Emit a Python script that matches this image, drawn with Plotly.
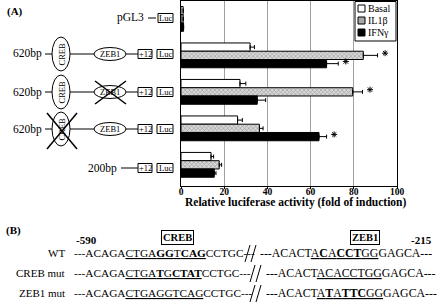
import plotly.graph_objects as go

# ---------------- data ----------------
constructs = ["pGL3", "620bp WT", "620bp ZEB1 mut", "620bp CREB mut", "200bp"]
series_names = ["Basal", "IL1β", "IFNγ"]
basal = [1.0, 32.0, 27.3, 26.2, 13.9]
basal_err = [0.0, 2.0, 2.7, 2.2, 1.2]
il1b = [1.0, 84.4, 79.5, 36.3, 17.7]
il1b_err = [0.0, 6.6, 4.5, 1.7, 1.1]
ifng = [1.2, 67.4, 35.3, 63.9, 15.4]
ifng_err = [0.0, 5.4, 3.9, 3.5, 0.8]
signif_basal = [False, False, False, False, False]
signif_il1b = [False, True, True, False, False]
signif_ifng = [False, True, False, True, False]
x_ticks = [0, 20, 40, 60, 80, 100]
x_title = "Relative luciferase activity (fold of induction)"

# ---------------- geometry helpers (pixel -> paper) ----------------
W, H = 440, 305
L, R, T, B = 181, 397, 1, 186


def px(x):
    return (x - L) / (R - L)


def py(y):
    return (B - y) / (B - T)


SERIF = "Liberation Serif"
fig = go.Figure()

positions = list(range(len(constructs)))
styles = [
    dict(color="white"),
    dict(color="#c8c8c8", pattern=dict(shape="x", size=3, solidity=0.35,
                                        fgcolor="#555555", bgcolor="#d8d8d8")),
    dict(color="black"),
]
vals = [basal, il1b, ifng]
errs = [basal_err, il1b_err, ifng_err]
for name, v, e, st in zip(series_names, vals, errs, styles):
    fig.add_trace(go.Bar(
        name=name, y=positions, x=v, orientation="h",
        marker=dict(line=dict(color="black", width=1), **st),
        error_x=dict(type="data", array=e, arrayminus=[0] * len(e), symmetric=False,
                     color="black", thickness=1, width=2),
        showlegend=False, hoverinfo="skip",
    ))

# asterisks (significance markers placed just past each error bar)
group_w = 1 - 0.32
offsets = [-group_w / 3, 0, group_w / 3]
sx, sy = [], []
for sig, v, e, off in zip([signif_basal, signif_il1b, signif_ifng], vals, errs, offsets):
    for i, s in enumerate(sig):
        if s:
            sx.append(v[i] + e[i] + 3.5)
            sy.append(i + off - 0.06)
fig.add_trace(go.Scatter(x=sx, y=sy, mode="markers", showlegend=False, hoverinfo="skip",
                         marker=dict(symbol="asterisk-open", size=5, color="black",
                                     line=dict(color="black", width=1))))

fig.update_layout(
    width=W, height=H,
    margin=dict(l=L, r=W - R, t=T, b=H - B),
    plot_bgcolor="white", paper_bgcolor="white",
    barmode="group", bargap=0.32, bargroupgap=0,
    showlegend=False,
    font=dict(family=SERIF, color="black"),
    xaxis=dict(range=[0, 100], tickvals=x_ticks,
               ticktext=["<b>%d</b>" % t for t in x_ticks],
               tickfont=dict(family=SERIF, size=9.5, color="black"),
               showgrid=True, gridcolor="#a0a0a0", gridwidth=1,
               showline=True, linecolor="black", linewidth=1, mirror=True,
               ticks="outside", ticklen=2, tickcolor="black", zeroline=False,
               ticklabelstandoff=-5),
    yaxis=dict(range=[4.58, -0.49], showticklabels=False, showgrid=False,
               showline=True, linecolor="black", linewidth=1, mirror=True,
               zeroline=False, ticks=""),
)

shapes = []
ann = []


def line(x0, y0, x1, y1, w=1):
    shapes.append(dict(type="line", xref="paper", yref="paper",
                       x0=px(x0), y0=py(y0), x1=px(x1), y1=py(y1),
                       line=dict(color="black", width=w)))


def rect(x0, y0, x1, y1, fill="white", w=1):
    shapes.append(dict(type="rect", xref="paper", yref="paper",
                       x0=px(x0), y0=py(y0), x1=px(x1), y1=py(y1),
                       line=dict(color="black", width=w), fillcolor=fill))


def ellipse(cx, cy, rx, ry):
    shapes.append(dict(type="circle", xref="paper", yref="paper",
                       x0=px(cx - rx), y0=py(cy - ry), x1=px(cx + rx), y1=py(cy + ry),
                       line=dict(color="black", width=1), fillcolor="white"))


def text(x, y, s, size=11, xanchor="center", angle=0, bold=False, **kw):
    if bold:
        s = "<b>" + s + "</b>"
    ann.append(dict(x=px(x), y=py(y), xref="paper", yref="paper", text=s,
                    showarrow=False, xanchor=xanchor, yanchor="middle",
                    textangle=angle, font=dict(family=SERIF, size=size, color="black"), **kw))


def boxes(y):
    rect(138, y - 4.5, 152, y + 4.5)
    text(145, y, "+12", size=8.5)
    rect(157, y - 4.5, 173, y + 4.5)
    text(165, y, "Luc", size=8.5)


def full_row(y, cross_creb=False, cross_zeb=False):
    text(44, y, "620bp", size=11.5, xanchor="right")
    line(45, y, 52, y)
    line(70, y, 94, y)
    line(126, y, 138, y)
    ellipse(61, y, 9, 17)
    text(61.5, y, "CREB", size=8.5, angle=-90)
    ellipse(110, y, 16, 6.5)
    text(110, y, "ZEB1", size=8.5)
    boxes(y)
    if cross_creb:
        line(47, y - 16, 77, y + 20, 1.5)
        line(47, y + 20, 77, y - 16, 1.5)
    if cross_zeb:
        line(95, y - 11, 126, y + 12, 1.5)
        line(95, y + 12, 126, y - 11, 1.5)


# panel A labels and diagrams
text(5, 12, "(A)", size=11, xanchor="left", bold=True)
text(146, 18, "pGL3", size=11.5, xanchor="right")
line(148, 18, 156, 18)
rect(158, 13.5, 173, 22.5)
text(165.5, 18, "Luc", size=8.5)
full_row(54)
full_row(92, cross_zeb=True)
full_row(129, cross_creb=True)
text(119, 168, "200bp", size=11.5, xanchor="right")
line(121, 168, 138, 168)
boxes(168)

# manual legend
rect(355, 1.5, 396, 41)
leg_fill = ["white", "#a8a8a8", "black"]
for i, (nm, fc) in enumerate(zip(series_names, leg_fill)):
    yy = 8.5 + i * 12
    rect(358, yy - 3.5, 365, yy + 3.5, fill=fc)
    text(366, yy, nm, size=10, xanchor="left")

# axis title
text(296, 202, x_title, size=11.5, bold=True)

# panel B
text(4, 230, "(B)", size=11, xanchor="left", bold=True)
text(86, 240, "-590", size=11, bold=True)
text(421, 240, "-215", size=11, bold=True)
ann.append(dict(x=px(177.5), y=py(237.5), xref="paper", yref="paper", text="<b>CREB</b>",
                showarrow=False, xanchor="center", yanchor="middle",
                font=dict(family=SERIF, size=10.5, color="black"),
                bordercolor="black", borderwidth=1, borderpad=1))
ann.append(dict(x=px(365), y=py(237.5), xref="paper", yref="paper", text="<b>ZEB1</b>",
                showarrow=False, xanchor="center", yanchor="middle",
                font=dict(family=SERIF, size=10.5, color="black"),
                bordercolor="black", borderwidth=1, borderpad=1))

rows_b = [
    ("WT", 253,
     "---ACAGA<u>CTGA<b>GG</b>T<b>CAG</b></u>CCTGC---",
     "---ACACT<u>A<b>C</b>A<b>CCT</b>GG</u>GAGCA---", 245, 258),
    ("CREB mut", 273,
     "---ACAGA<u>CTGA<b>T</b>G<b>CTAT</b></u>CCTGC---",
     "---ACACT<u>ACACCTGG</u>GAGCA---", 250, 264),
    ("ZEB1 mut", 293,
     "---ACAGA<u>CTGAGGTCAG</u>CCTGC---",
     "---ACACT<u>A<b>T</b>A<b>TTC</b>GG</u>GAGCA---", 250, 264),
]
for lbl, y, left, right, sxx, rx in rows_b:
    text(67, y, lbl, size=11, xanchor="right")
    text(72, y, left, size=11.3, xanchor="left")
    text(rx, y, right, size=11.8, xanchor="left")
    line(sxx, y + 9, sxx + 5, y - 8)
    line(sxx + 6, y + 9, sxx + 11, y - 8)

fig.update_layout(shapes=shapes, annotations=ann)
fig.write_html("out.html", config={"displayModeBar": False},
               post_script="document.body.style.margin='0';")
